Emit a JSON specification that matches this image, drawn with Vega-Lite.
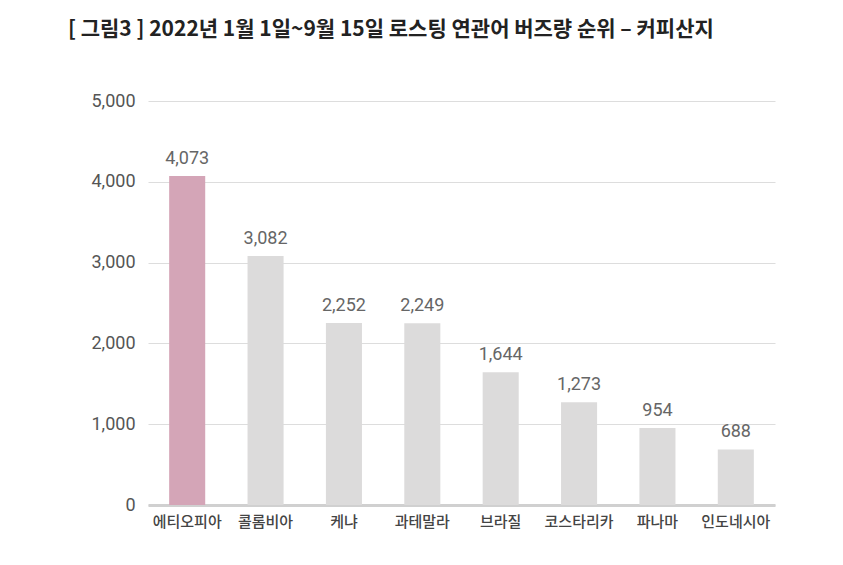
{
  "$schema": "https://vega.github.io/schema/vega-lite/v6.json",
  "width": 627,
  "height": 404,
  "autosize": "none",
  "padding": {"left": 148, "top": 101, "right": 68, "bottom": 60},
  "background": "white",
  "title": {
    "text": "[ 그림3 ] 2022년 1월 1일~9월 15일 로스팅 연관어 버즈량 순위 – 커피산지",
    "anchor": "start",
    "frame": "group",
    "dx": -80,
    "offset": 52,
    "font": "Noto Sans CJK KR",
    "fontSize": 21,
    "fontWeight": "bold",
    "color": "#222222"
  },
  "config": {
    "view": {"stroke": null},
    "font": "Noto Sans CJK KR"
  },
  "data": {
    "values": [
      {"country": "에티오피아", "buzz": 4073, "highlight": "yes"},
      {"country": "콜롬비아", "buzz": 3082, "highlight": "no"},
      {"country": "케냐", "buzz": 2252, "highlight": "no"},
      {"country": "과테말라", "buzz": 2249, "highlight": "no"},
      {"country": "브라질", "buzz": 1644, "highlight": "no"},
      {"country": "코스타리카", "buzz": 1273, "highlight": "no"},
      {"country": "파나마", "buzz": 954, "highlight": "no"},
      {"country": "인도네시아", "buzz": 688, "highlight": "no"}
    ]
  },
  "encoding": {
    "x": {
      "field": "country",
      "type": "nominal",
      "sort": null,
      "scale": {"paddingInner": 0.54, "paddingOuter": 0.27},
      "axis": {
        "title": null,
        "labelAngle": 0,
        "ticks": false,
        "domain": true,
        "domainColor": "#d0d0d0",
        "domainWidth": 3,
        "labelPadding": 9,
        "labelFontSize": 15,
        "labelFontWeight": 500,
        "labelColor": "#444444",
        "labelFont": "Noto Sans CJK KR"
      }
    },
    "y": {
      "field": "buzz",
      "type": "quantitative",
      "scale": {"domain": [0, 5000]},
      "axis": {
        "title": null,
        "values": [0, 1000, 2000, 3000, 4000, 5000],
        "format": ",.0f",
        "domain": false,
        "ticks": false,
        "gridColor": "#dddddd",
        "gridWidth": 1,
        "labelPadding": 13,
        "labelFontSize": 18,
        "labelColor": "#555555",
        "labelFont": "Roboto"
      }
    }
  },
  "layer": [
    {
      "mark": {"type": "bar"},
      "encoding": {
        "color": {
          "field": "highlight",
          "type": "nominal",
          "scale": {"domain": ["yes", "no"], "range": ["#d4a5b7", "#dcdbdb"]},
          "legend": null
        }
      }
    },
    {
      "mark": {"type": "text", "baseline": "bottom", "dy": -8, "fontSize": 18, "color": "#666666", "font": "Roboto"},
      "encoding": {
        "text": {"field": "buzz", "type": "quantitative", "format": ",.0f"}
      }
    }
  ]
}
